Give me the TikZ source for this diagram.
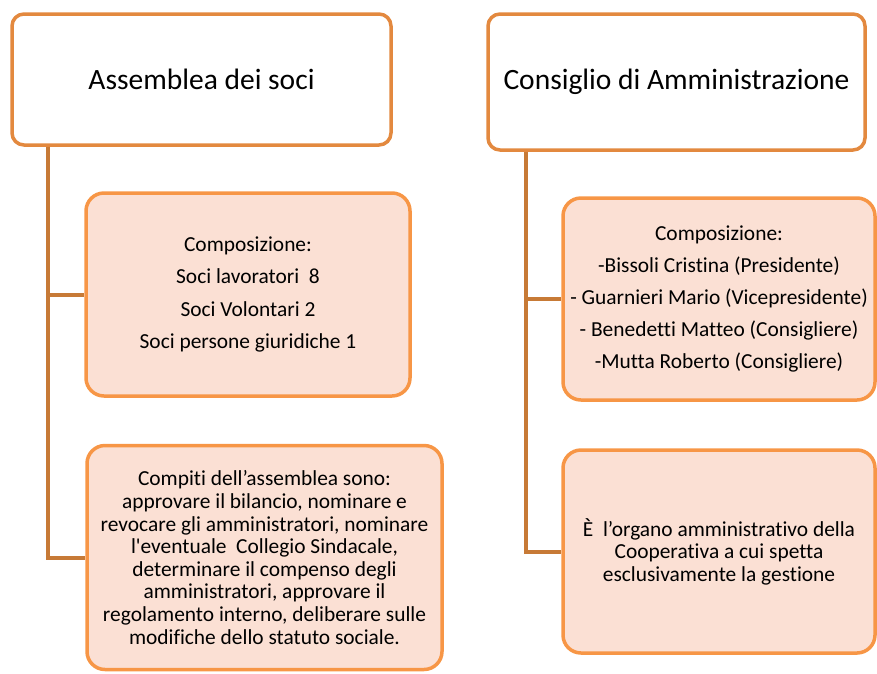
\documentclass[tikz,border=0pt]{standalone}
\usepackage{fontspec}
\setmainfont{Carlito}[Ligatures={TeXOff,CommonOff}]
\usepackage{tikz}
\usetikzlibrary{positioning,calc}
\definecolor{bordo}{HTML}{E3893F}
\definecolor{bordochiaro}{HTML}{F79646}
\definecolor{pesca}{HTML}{FBE0D4}
\definecolor{marrone}{HTML}{C77A36}
\tikzstyle{titolo} = [draw=bordo, line width=3.5pt, rounded corners=12pt, fill=white, align=center, inner sep=0pt, font=\fontsize{29.5}{34}\selectfont]
\tikzstyle{scheda} = [draw=bordochiaro, line width=3.5pt, rounded corners=18pt, fill=pesca, align=center, inner sep=0pt, font=\fontsize{21.4}{22.6}\selectfont]
\tikzstyle{ramo} = [draw=marrone, line width=4pt]

\begin{document}
\begin{tikzpicture}[x=1pt,y=-1pt]
      \useasboundingbox (0,0) rectangle (877,673);
      % caselle in alto
      \node[titolo, minimum width=379pt, minimum height=131pt] (assemblea) at (201.5,79.5) {Assemblea dei soci};
      \node[titolo, minimum width=377pt, minimum height=136pt] (consiglio) at (676.5,82) {Consiglio di Amministrazione};
      % colonna sinistra
      \node[scheda, minimum width=324pt, minimum height=203pt] (socil) at (248,294.5) {Composizione:\\[10pt]
        Soci lavoratori~~8\\[10pt]
        Soci Volontari 2\\[10pt]
        Soci persone giuridiche 1};
      \node[scheda, minimum width=355pt, minimum height=224pt] (compiti) at (264.5,557.5) {Compiti dell’assemblea sono:\\
        approvare il bilancio, nominare e\\
        revocare gli amministratori, nominare\\
        l'eventuale~~Collegio Sindacale,\\
        determinare il compenso degli\\
        amministratori, approvare il\\
        regolamento interno, deliberare sulle\\
        modifiche dello statuto sociale.};
      % colonna destra
      \node[scheda, minimum width=312pt, minimum height=202pt] (membri) at (719,299) {Composizione:\\[9.5pt]
        -Bissoli Cristina (Presidente)\\[9.5pt]
        - Guarnieri Mario (Vicepresidente)\\[9.5pt]
        - Benedetti Matteo (Consigliere)\\[9.5pt]
        -Mutta Roberto (Consigliere)};
      \node[scheda, minimum width=312pt, minimum height=203pt] (organo) at (719,551.5) {È~~l’organo amministrativo della\\
        Cooperativa a cui spetta\\
        esclusivamente la gestione};
      % rami
      \draw[ramo] ([xshift=38pt]assemblea.south west) |- (socil.west);
      \draw[ramo] ([xshift=38pt]assemblea.south west) |- (compiti.west);
      \draw[ramo] ([xshift=40pt]consiglio.south west) |- (membri.west);
      \draw[ramo] ([xshift=40pt]consiglio.south west) |- (organo.west);
\end{tikzpicture}
\end{document}
